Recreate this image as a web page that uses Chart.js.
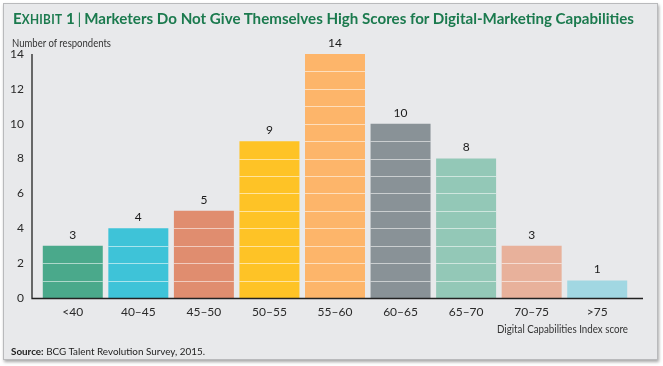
<!DOCTYPE html>
<html>
<head>
<meta charset="utf-8">
<script src="https://cdn.jsdelivr.net/npm/chart.js@4"></script>
<style>
  html, body { margin: 0; padding: 0; background: #ffffff; width: 663px; height: 366px; overflow: hidden; }
  #panel { position: absolute; left: 3px; top: 3px; width: 653px; height: 355px; background: #e8e9eb;
           border: 1px solid #b9babc; box-shadow: 1px 2px 3px rgba(0,0,0,0.35); }
  #chartwrap { position: absolute; left: 0; top: 0; width: 663px; height: 366px; }
  .txt { position: absolute; white-space: nowrap; transform-origin: 0 0; }
  #title { left: 13px; top: 8px; font-family: "Lato", sans-serif; font-weight: 700; font-size: 16px; color: #1b7a4e; }
  #title .sc { font-size: 12.5px; letter-spacing: 0.3px; }
  #title .bar { font-weight: 400; color: #1b7a4e; padding: 0 3px; }
  #ylab { left: 12px; top: 36px; font-family: "Lato", sans-serif; font-size: 11px; color: #333; }
  #xlab { left: 497px; top: 322px; font-family: "Lato", sans-serif; font-size: 11px; color: #333; }
  #source { left: 11px; top: 345px; font-family: "Lato", sans-serif; font-size: 10px; color: #222; }
</style>
</head>
<body>
<div id="panel"></div>
<div id="chartwrap"><canvas id="c" width="663" height="366"></canvas></div>
<div id="title" class="txt">E<span class="sc">XHIBIT</span> 1<span class="bar">|</span>Marketers Do Not Give Themselves High Scores for Digital-Marketing Capabilities</div>
<div id="ylab" class="txt">Number of respondents</div>
<div id="xlab" class="txt">Digital Capabilities Index score</div>
<div id="source" class="txt"><b>Source:</b> BCG Talent Revolution Survey, 2015.</div>
<script>
const categories = ["<40", "40–45", "45–50", "50–55", "55–60", "60–65", "65–70", "70–75", ">75"];
const respondents = [3, 4, 5, 9, 14, 10, 8, 3, 1];
const barColors = ["#4aa98b", "#3ec3d8", "#e08d6f", "#fec326", "#fdb56a", "#899297", "#93c8b7", "#e8b19b", "#a1d7e2"];
const yTicks = [0, 2, 4, 6, 8, 10, 12, 14];

function fitWidth(id, target) {
  const el = document.getElementById(id);
  const w = el.getBoundingClientRect().width;
  el.style.transform = "scaleX(" + (target / w) + ")";
}
fitWidth("title", 621);
fitWidth("ylab", 99);
fitWidth("xlab", 131);
fitWidth("source", 194);

const unitLines = {
  id: "unitLines",
  afterDatasetsDraw(chart) {
    const ctx = chart.ctx;
    const yScale = chart.scales.y;
    const meta = chart.getDatasetMeta(0);
    ctx.save();
    ctx.strokeStyle = "rgba(255,255,255,0.55)";
    ctx.lineWidth = 1.2;
    meta.data.forEach((bar, i) => {
      const v = respondents[i];
      const half = bar.width / 2;
      for (let k = 1; k < v; k++) {
        const y = Math.round(yScale.getPixelForValue(k)) + 0.5;
        ctx.beginPath();
        ctx.moveTo(bar.x - half, y);
        ctx.lineTo(bar.x + half, y);
        ctx.stroke();
      }
      ctx.fillStyle = "#1a1a1a";
      ctx.font = "12px Lato, sans-serif";
      ctx.textAlign = "center";
      ctx.textBaseline = "middle";
      ctx.fillText(String(v), bar.x, bar.y - 11);
    });
    ctx.restore();
  }
};

const axisLines = {
  id: "axisLines",
  afterDraw(chart) {
    const ctx = chart.ctx;
    const a = chart.chartArea;
    const yScale = chart.scales.y;
    const y0 = Math.round(yScale.getPixelForValue(0)) + 0.5;
    const yTop = yScale.getPixelForValue(14);
    const xl = a.left - 8;
    ctx.save();
    ctx.strokeStyle = "#222";
    ctx.lineWidth = 1.3;
    ctx.beginPath();
    ctx.moveTo(xl, yTop);
    ctx.lineTo(xl, y0);
    ctx.lineTo(a.right + 13, y0);
    ctx.stroke();
    ctx.restore();
  }
};

new Chart(document.getElementById("c"), {
  type: "bar",
  data: {
    labels: categories,
    datasets: [{
      data: respondents,
      backgroundColor: barColors,
      borderWidth: 0,
      barPercentage: 0.915,
      categoryPercentage: 1.0
    }]
  },
  options: {
    responsive: false,
    animation: false,
    events: [],
    layout: { padding: { left: 0, right: 33, top: 54, bottom: 0 } },
    plugins: { legend: { display: false }, tooltip: { enabled: false }, title: { display: false } },
    scales: {
      x: {
        grid: { display: false, drawTicks: false },
        border: { display: false },
        afterFit(scale) { scale.height = 68; },
        ticks: { color: "#2a2a2a", font: { family: "Lato", size: 12 }, padding: 7, maxRotation: 0, autoSkip: false }
      },
      y: {
        min: 0, max: 14,
        afterBuildTicks(scale) { scale.ticks = yTicks.map(v => ({ value: v })); },
        afterFit(scale) { scale.width = 40; },
        grid: { display: false, drawTicks: false },
        border: { display: false },
        ticks: { color: "#2a2a2a", font: { family: "Lato", size: 12 }, padding: 16 }
      }
    }
  },
  plugins: [unitLines, axisLines]
});
</script>
</body>
</html>
